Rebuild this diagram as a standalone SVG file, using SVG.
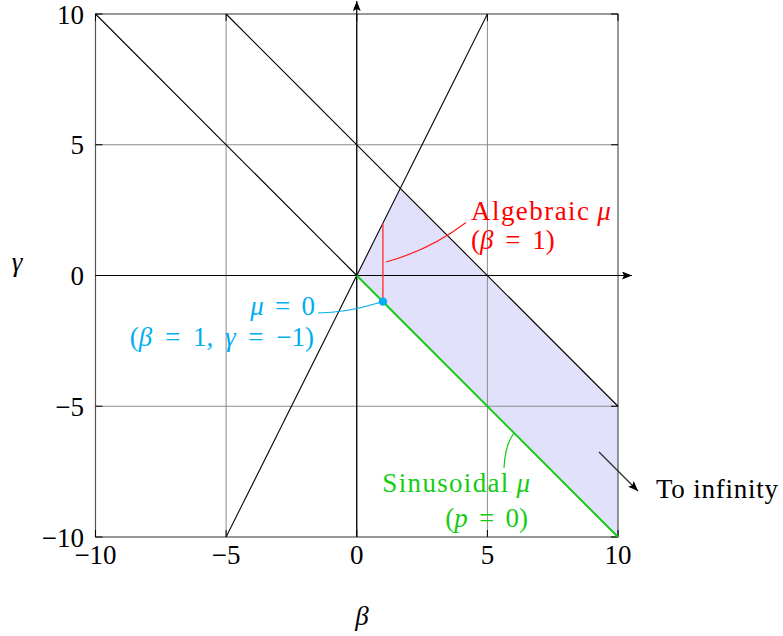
<svg xmlns="http://www.w3.org/2000/svg" width="783" height="636" viewBox="0 0 783 636">
<style>
text{font-family:"Liberation Serif","Times New Roman",serif;font-size:27px;fill:#000}
.it{font-style:italic}
.grid{stroke:#8c8c8c;stroke-width:1;fill:none}
.tick{stroke:#000;stroke-width:1}
.thin{stroke:#000;stroke-width:1.1;fill:none}
.red{fill:#ff0000}
.cyan{fill:#00aeef}
.green{fill:#14cc14}
</style>
<defs>
<marker id="arr" viewBox="0 0 10 8" refX="10" refY="4" markerWidth="10" markerHeight="8" markerUnits="userSpaceOnUse" orient="auto">
<path d="M0,0 L10,4 L0,8 L2,4 z" fill="#000"/>
</marker>
</defs>
<rect width="783" height="636" fill="#fff"/>

<g id="region">
<polygon points="356.75,275.5 400.3,188.3 618,406.25 618,537" fill="#e1e1fb"/>
</g>

<g id="grid">
<path class="grid" d="M226.1,14V537M356.75,14V537M487.4,14V537M95.5,144.75H618M95.5,275.5H618M95.5,406.25H618"/>
<rect x="95.5" y="14" width="522.5" height="523" fill="none" stroke="#555" stroke-width="1.2"/>
<path class="tick" d="M95.5,537v-7M226.1,537v-7M356.75,537v-7M487.4,537v-7M618,537v-7M95.5,14v7M226.1,14v7M356.75,14v7M487.4,14v7M618,14v7M95.5,14h7M95.5,144.75h7M95.5,275.5h7M95.5,406.25h7M95.5,537h7M618,14h-7M618,144.75h-7M618,275.5h-7M618,406.25h-7M618,537h-7"/>
</g>

<g id="connectors">
<line x1="95.5" y1="275.5" x2="632" y2="275.5" stroke="#000" stroke-width="1.2" marker-end="url(#arr)"/>
<line x1="356.75" y1="537" x2="356.75" y2="1" stroke="#000" stroke-width="1.2" marker-end="url(#arr)"/>
<line class="thin" x1="95.5" y1="14" x2="356.75" y2="275.5"/>
<line class="thin" x1="226.1" y1="14" x2="618" y2="406.25"/>
<line class="thin" x1="226.1" y1="537" x2="487.4" y2="14"/>
<line x1="356.75" y1="275.5" x2="618" y2="537" stroke="#14cc14" stroke-width="2"/>
<line x1="382.9" y1="223.2" x2="382.9" y2="301.65" stroke="#ff4040" stroke-width="1.5"/>
<path d="M386,262 Q430,250 466,222.5" fill="none" stroke="#ff2020" stroke-width="1.2"/>
<path d="M318,313 Q345,313 380,302.5" fill="none" stroke="#00aeef" stroke-width="1.2"/>
<path d="M504,468 Q505,445 514,433" fill="none" stroke="#14cc14" stroke-width="1.2"/>
<line x1="599" y1="452" x2="638" y2="491" stroke="#222" stroke-width="1.1" marker-end="url(#arr)"/>
</g>

<g id="mu0point">
<circle cx="382.9" cy="301.65" r="4.2" fill="#00aeef"/>
</g>

<g id="ticklabels">
<text x="84" y="23.5" text-anchor="end">10</text>
<text x="84" y="154.25" text-anchor="end">5</text>
<text x="84" y="285" text-anchor="end">0</text>
<text x="84" y="415.75" text-anchor="end">−5</text>
<text x="84" y="546.5" text-anchor="end">−10</text>
<text x="95.5" y="564" text-anchor="middle">−10</text>
<text x="226.1" y="564" text-anchor="middle">−5</text>
<text x="356.75" y="564" text-anchor="middle">0</text>
<text x="487.4" y="564" text-anchor="middle">5</text>
<text x="618" y="564" text-anchor="middle">10</text>
</g>

<g id="axislabels">
<text class="it" x="17" y="271" text-anchor="middle">γ</text>
<text class="it" x="362" y="625" text-anchor="middle">β</text>
</g>

<g id="label-algebraic">
<text class="red" x="471" y="220"><tspan textLength="118" lengthAdjust="spacing">Algebraic</tspan> <tspan class="it">μ</tspan></text>
<text class="red" x="471" y="249">(<tspan class="it">β</tspan> <tspan dx="5">=</tspan> <tspan dx="5">1)</tspan></text>
</g>

<g id="label-mu0">
<text class="cyan" x="315" y="315" text-anchor="end"><tspan class="it">μ</tspan> <tspan dx="4.5">=</tspan> <tspan dx="4.5">0</tspan></text>
<text class="cyan" x="314" y="346" text-anchor="end">(<tspan class="it">β</tspan> <tspan dx="6">=</tspan> <tspan dx="6">1,</tspan> <tspan class="it" dx="5">γ</tspan> <tspan dx="6">=</tspan> <tspan dx="6">−1)</tspan></text>
</g>

<g id="label-sinusoidal">
<text class="green" x="530" y="492" text-anchor="end"><tspan textLength="126" lengthAdjust="spacing">Sinusoidal</tspan> <tspan class="it">μ</tspan></text>
<text class="green" x="528" y="527" text-anchor="end">(<tspan class="it">p</tspan> <tspan dx="4.5">=</tspan> <tspan dx="4.5">0)</tspan></text>
</g>

<g id="label-infinity">
<text x="656" y="498" textLength="122" lengthAdjust="spacing">To infinity</text>
</g>
</svg>
